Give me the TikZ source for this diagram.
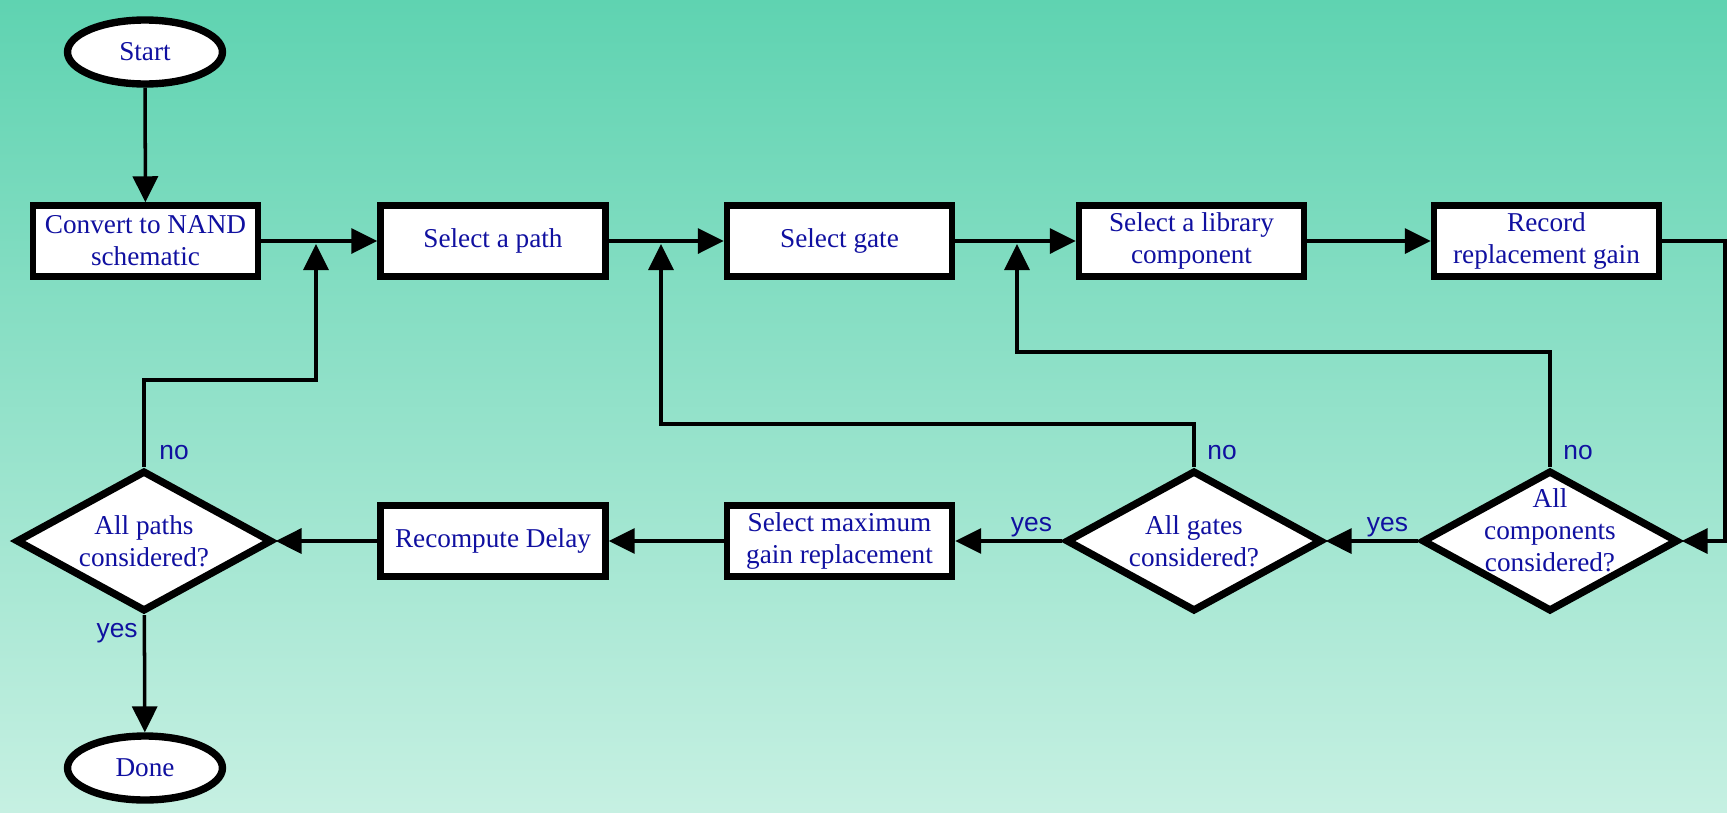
\documentclass[tikz,border=0pt]{standalone}
\usepackage{fontspec}
\setmainfont{Liberation Serif}
\setsansfont{Liberation Sans}
\usetikzlibrary{arrows.meta, shapes.geometric, calc}
\definecolor{bgtop}{RGB}{95,211,177}
\definecolor{bgbottom}{RGB}{198,240,226}
\definecolor{txtblue}{RGB}{16,16,160}
\newcommand{\boxfont}{\fontsize{15.5}{18.2}\selectfont}
\tikzset{
  box/.style={draw, line width=3.7pt, fill=white, minimum width=4.5cm, minimum height=1.42cm,
    inner sep=0pt, align=center, text=txtblue, font=\boxfont},
  terminal/.style={ellipse, draw, line width=4.2pt, fill=white, minimum width=3.1cm,
    minimum height=1.28cm, inner sep=0pt, text=txtblue, font=\boxfont},
  decision/.style={diamond, draw, line width=4.2pt, fill=white, minimum width=5.12cm,
    minimum height=2.82cm, inner sep=0pt},
  dtext/.style={align=center, inner sep=0pt, text=txtblue, font=\boxfont},
  answer/.style={inner sep=0pt, text=txtblue, font=\sffamily\fontsize{15}{18}\selectfont},
  flow/.style={line width=2pt, -{Triangle[length=0.52cm,width=0.5cm]}},
}

\begin{document}
\begin{tikzpicture}[x=0.02cm, y=-0.02cm]
            \useasboundingbox (0,0) rectangle (1727,812);
            \shade[top color=bgtop, bottom color=bgbottom] (0,0) rectangle (1727,812);

            \node[terminal] (start) at (145,52) {Start};
            \node[box] (convert) at (145.5,241) {Convert to NAND\\schematic};
            \node[box] (path) at (493,241) {Select a path};
            \node[box] (gate) at (839.5,241) {Select gate};
            \node[box] (lib) at (1191.5,241) {Select a library\\component};
            \node[box] (record) at (1546.5,241) {Record\\replacement gain};

            \node[decision] (allcomp) at (1550,541) {};
            \node[decision] (allgates) at (1194,541) {};
            \node[box] (maxgain) at (839.5,541) {Select maximum\\gain replacement};
            \node[box] (delay) at (493,541) {Recompute Delay};
            \node[decision] (allpaths) at (144,541) {};
            \node[terminal] (done) at (145,768) {Done};

            \node[dtext] (allcompt) at ($(allcomp)+(0,-11)$) {All\\components\\considered?};
            \node[dtext] (allgatest) at (allgates) {All gates\\considered?};
            \node[dtext] (allpathst) at (allpaths) {All paths\\considered?};

            \coordinate (R1) at (1725,241);
            \coordinate (R2) at (1725,541);
            \coordinate (J1) at (316,244);
            \coordinate (J2) at (661,244);
            \coordinate (J3) at (1017,244);
            \coordinate (K1) at (316,380);
            \coordinate (K2) at (661,424);
            \coordinate (K3) at (1017,352);

            \draw[flow] (start) -- (convert);
            \draw[flow] (convert) -- (path);
            \draw[flow] (path) -- (gate);
            \draw[flow] (gate) -- (lib);
            \draw[flow] (lib) -- (record);
            \draw[flow] (record.east) -- (R1) -- (R2) -- (allcomp.east);
            \draw[flow] (allcomp) -- (allgates);
            \draw[flow] (allgates) -- (maxgain);
            \draw[flow] (maxgain) -- (delay);
            \draw[flow] (delay) -- (allpaths);
            \draw[flow] (allpaths) -- (done);
            \draw[flow] (allpaths.north) |- (K1) -- (J1);
            \draw[flow] (allgates.north) |- (K2) -- (J2);
            \draw[flow] (allcomp.north) |- (K3) -- (J3);

            \node[answer, anchor=west] (nopaths) at ($(allpaths.north)+(15,-14)$) {no};
            \node[answer, anchor=west] (nogates) at ($(allgates.north)+(13,-14)$) {no};
            \node[answer, anchor=west] (nocomp) at ($(allcomp.north)+(13,-14)$) {no};
            \node[answer, anchor=east] (yespaths) at ($(allpaths.south)+(-6,18)$) {yes};
            \node[answer, anchor=east] (yesgates) at ($(allgates.west)+(-10,-14)$) {yes};
            \node[answer, anchor=east] (yescomp) at ($(allcomp.west)+(-10,-14)$) {yes};
        \end{tikzpicture}
\end{document}
